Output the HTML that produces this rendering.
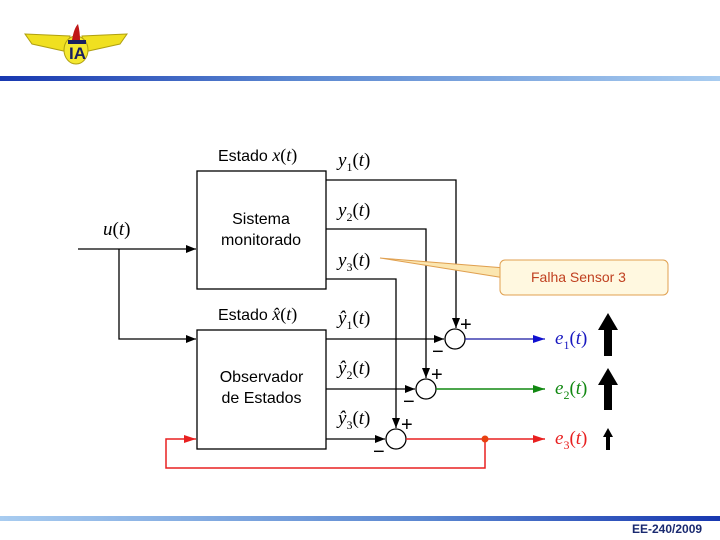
<!DOCTYPE html>
<html><head><meta charset="utf-8"><style>
body{margin:0;width:720px;height:540px;background:#fff;overflow:hidden;position:relative;font-family:"Liberation Sans",sans-serif}
.t{position:absolute;white-space:nowrap}
.m{font-family:"Liberation Serif",serif;font-style:italic;font-size:19px}
</style></head><body>
<div style="position:absolute;left:0;top:76px;width:720px;height:5px;background:linear-gradient(90deg,#1838b0,#5a86d0 40%,#a8ccf0)"></div>
<div style="position:absolute;left:0;top:516px;width:720px;height:5px;background:linear-gradient(90deg,#a8ccf0,#5a86d0 60%,#1838b0)"></div>
<div class="t" style="left:632px;top:522px;font-size:12px;font-weight:bold;color:#1a2a70">EE-240/2009</div>
<svg width="720" height="540" style="position:absolute;left:0;top:0">
<defs>
<marker id="a" markerWidth="10" markerHeight="8" refX="10" refY="4" orient="auto" markerUnits="userSpaceOnUse"><path d="M0,0L10,4L0,8z" fill="#000"/></marker>
<marker id="b" markerWidth="12" markerHeight="8" refX="12" refY="4" orient="auto" markerUnits="userSpaceOnUse"><path d="M0,0L12,4L0,8z" fill="#1010d0"/></marker>
<marker id="g" markerWidth="12" markerHeight="8" refX="12" refY="4" orient="auto" markerUnits="userSpaceOnUse"><path d="M0,0L12,4L0,8z" fill="#118811"/></marker>
<marker id="r" markerWidth="12" markerHeight="8" refX="12" refY="4" orient="auto" markerUnits="userSpaceOnUse"><path d="M0,0L12,4L0,8z" fill="#e82020"/></marker>
</defs>
<!-- logo -->
<path d="M25,34 L70,36 L68,52 Q50,48 32,44z" fill="#f0e020" stroke="#b0a010"/>
<path d="M127,34 L82,36 L84,52 Q102,48 120,44z" fill="#f0e020" stroke="#b0a010"/>
<ellipse cx="76" cy="50" rx="12" ry="14" fill="#f4e830" stroke="#b0a010"/>
<path d="M72,40 Q74,28 78,24 Q80,32 80,40z" fill="#c01818"/>
<rect x="68" y="40" width="18" height="4" fill="#1a2060"/>
<text x="69" y="59" font-size="17" font-weight="bold" fill="#1a2060" font-family="Liberation Sans">IA</text>
<g stroke="#000" stroke-width="1.3" fill="none">
<rect x="197" y="171" width="129" height="118"/>
<rect x="197" y="330" width="129" height="119"/>
<line x1="78" y1="249" x2="196" y2="249" marker-end="url(#a)"/>
<polyline points="119,249 119,339 196,339" marker-end="url(#a)"/>
<polyline points="326,180 456,180 456,328" marker-end="url(#a)"/>
<polyline points="326,229 426,229 426,378" marker-end="url(#a)"/>
<polyline points="326,279 396,279 396,428" marker-end="url(#a)"/>
<line x1="326" y1="339" x2="444" y2="339" marker-end="url(#a)"/>
<line x1="326" y1="389" x2="415" y2="389" marker-end="url(#a)"/>
<line x1="326" y1="439" x2="385" y2="439" marker-end="url(#a)"/>
<circle cx="455" cy="339" r="10" fill="#fff"/>
<circle cx="426" cy="389" r="10" fill="#fff"/>
<circle cx="396" cy="439" r="10" fill="#fff"/>
</g>
<line x1="465" y1="339" x2="545" y2="339" stroke="#1818a0" stroke-width="1.3" marker-end="url(#b)"/>
<line x1="436" y1="389" x2="545" y2="389" stroke="#118811" stroke-width="1.5" marker-end="url(#g)"/>
<line x1="406" y1="439" x2="545" y2="439" stroke="#e82020" stroke-width="1.5" marker-end="url(#r)"/>
<polyline points="485,439 485,468 166,468 166,439 196,439" fill="none" stroke="#e82020" stroke-width="1.5" marker-end="url(#r)"/>
<circle cx="485" cy="439" r="3.5" fill="#e84010"/>
<g fill="#000">
<path d="M604,356V330H598L608,313L618,330H612V356z"/>
<path d="M604,410V385H598L608,368L618,385H612V410z"/>
<path d="M606,450V437H603L608,428L613,437H610V450z"/>
</g>
<g font-family="Liberation Sans" font-size="20" fill="#000">
<text x="460" y="331">+</text><text x="431" y="381">+</text><text x="401" y="431">+</text>
<text x="432" y="358">−</text><text x="403" y="408">−</text><text x="373" y="458">−</text>
</g>
<!-- callout -->
<path d="M380,258 L505,268 L505,278 Z" fill="#fbe6b0" stroke="#e0a050" stroke-width="1"/>
<rect x="500" y="260" width="168" height="35" rx="5" fill="#fff8e0" stroke="#e0a050"/>
<text x="531" y="282" font-size="14" fill="#c04020" font-family="Liberation Sans">Falha Sensor 3</text>
</svg>
<div class="t" style="left:218px;top:145px;font-size:16px">Estado <span class="m" style="font-size:18px">x</span><span style="font-family:'Liberation Serif';font-size:18px">(<i>t</i>)</span></div>
<div class="t" style="left:218px;top:304px;font-size:16px">Estado <span class="m" style="font-size:18px">x̂</span><span style="font-family:'Liberation Serif';font-size:18px">(<i>t</i>)</span></div>
<div class="t" style="left:229px;top:209px;font-size:16px;text-align:center;line-height:21px;width:50px;left:205px;width:112px">Sistema<br>monitorado</div>
<div class="t" style="left:197px;top:367px;width:129px;text-align:center;font-size:16px;line-height:21px">Observador<br>de Estados</div>
<div class="t m" style="left:103px;top:219px">u<span style="font-style:normal">(</span>t<span style="font-style:normal">)</span></div>
<div class="t m" style="left:338px;top:150px">y<sub style="font-size:12px;font-style:normal">1</sub><span style="font-style:normal">(</span>t<span style="font-style:normal">)</span></div>
<div class="t m" style="left:338px;top:200px">y<sub style="font-size:12px;font-style:normal">2</sub><span style="font-style:normal">(</span>t<span style="font-style:normal">)</span></div>
<div class="t m" style="left:338px;top:250px">y<sub style="font-size:12px;font-style:normal">3</sub><span style="font-style:normal">(</span>t<span style="font-style:normal">)</span></div>
<div class="t m" style="left:338px;top:308px">ŷ<sub style="font-size:12px;font-style:normal">1</sub><span style="font-style:normal">(</span>t<span style="font-style:normal">)</span></div>
<div class="t m" style="left:338px;top:358px">ŷ<sub style="font-size:12px;font-style:normal">2</sub><span style="font-style:normal">(</span>t<span style="font-style:normal">)</span></div>
<div class="t m" style="left:338px;top:408px">ŷ<sub style="font-size:12px;font-style:normal">3</sub><span style="font-style:normal">(</span>t<span style="font-style:normal">)</span></div>
<div class="t m" style="left:555px;top:328px;color:#1818c0">e<sub style="font-size:12px;font-style:normal">1</sub><span style="font-style:normal">(</span>t<span style="font-style:normal">)</span></div>
<div class="t m" style="left:555px;top:378px;color:#118811">e<sub style="font-size:12px;font-style:normal">2</sub><span style="font-style:normal">(</span>t<span style="font-style:normal">)</span></div>
<div class="t m" style="left:555px;top:428px;color:#e82020">e<sub style="font-size:12px;font-style:normal">3</sub><span style="font-style:normal">(</span>t<span style="font-style:normal">)</span></div>
</body></html>
